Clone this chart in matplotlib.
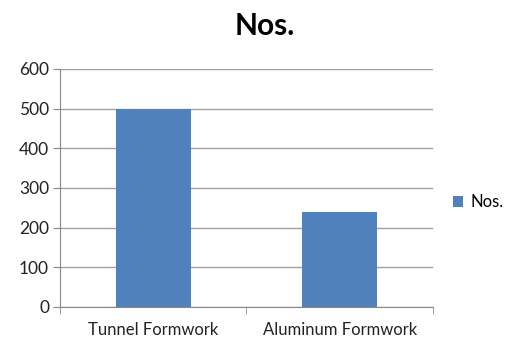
import matplotlib.pyplot as plt
from matplotlib.patches import Patch

# Данные
categories = ["Tunnel Formwork", "Aluminum Formwork"]
values = [500, 240]
series_name = "Nos."
y_ticks = [0, 100, 200, 300, 400, 500, 600]

plt.rcParams['font.family'] = ['Lato', 'DejaVu Sans']

fig = plt.figure(figsize=(5.14, 3.43), dpi=100)
ax = fig.add_axes([0.117, 0.105, 0.725, 0.694])

bar_color = '#4F81BD'
positions = list(range(len(categories)))
ax.bar(positions, values, width=0.4, color=bar_color, zorder=3)

ax.set_xlim(-0.5, len(categories) - 0.5)
ax.set_ylim(0, 600)
ax.set_yticks(y_ticks)
ax.set_xticks(positions)
ax.set_xticklabels(categories, fontsize=12, color='#222222')
ax.tick_params(axis='x', length=0, pad=11)
ax.tick_params(axis='y', labelsize=12.5, colors='#222222', length=5, color='#888888', pad=3)
# засечки на границах категорий
ax.set_xticks([-0.5, 0.5, 1.5], minor=True)
ax.tick_params(axis='x', which='minor', length=5, color='#888888', direction='out')

ax.grid(axis='y', color='#A0A0A0', linewidth=1, zorder=0)
for side in ['top', 'right']:
    ax.spines[side].set_visible(False)
ax.spines['left'].set_color('#888888')
ax.spines['bottom'].set_color('#888888')

fig.text(0.516, 0.925, series_name, ha='center', va='center', fontsize=21.5, fontweight='bold')

handle = Patch(facecolor=bar_color, label=series_name)
fig.legend(handles=[handle], loc='center left', bbox_to_anchor=(0.882, 0.41),
           frameon=False, fontsize=12, handlelength=0.6, handleheight=0.6,
           handletextpad=0.4, borderpad=0, borderaxespad=0)

fig.savefig('out.png', dpi=100)
